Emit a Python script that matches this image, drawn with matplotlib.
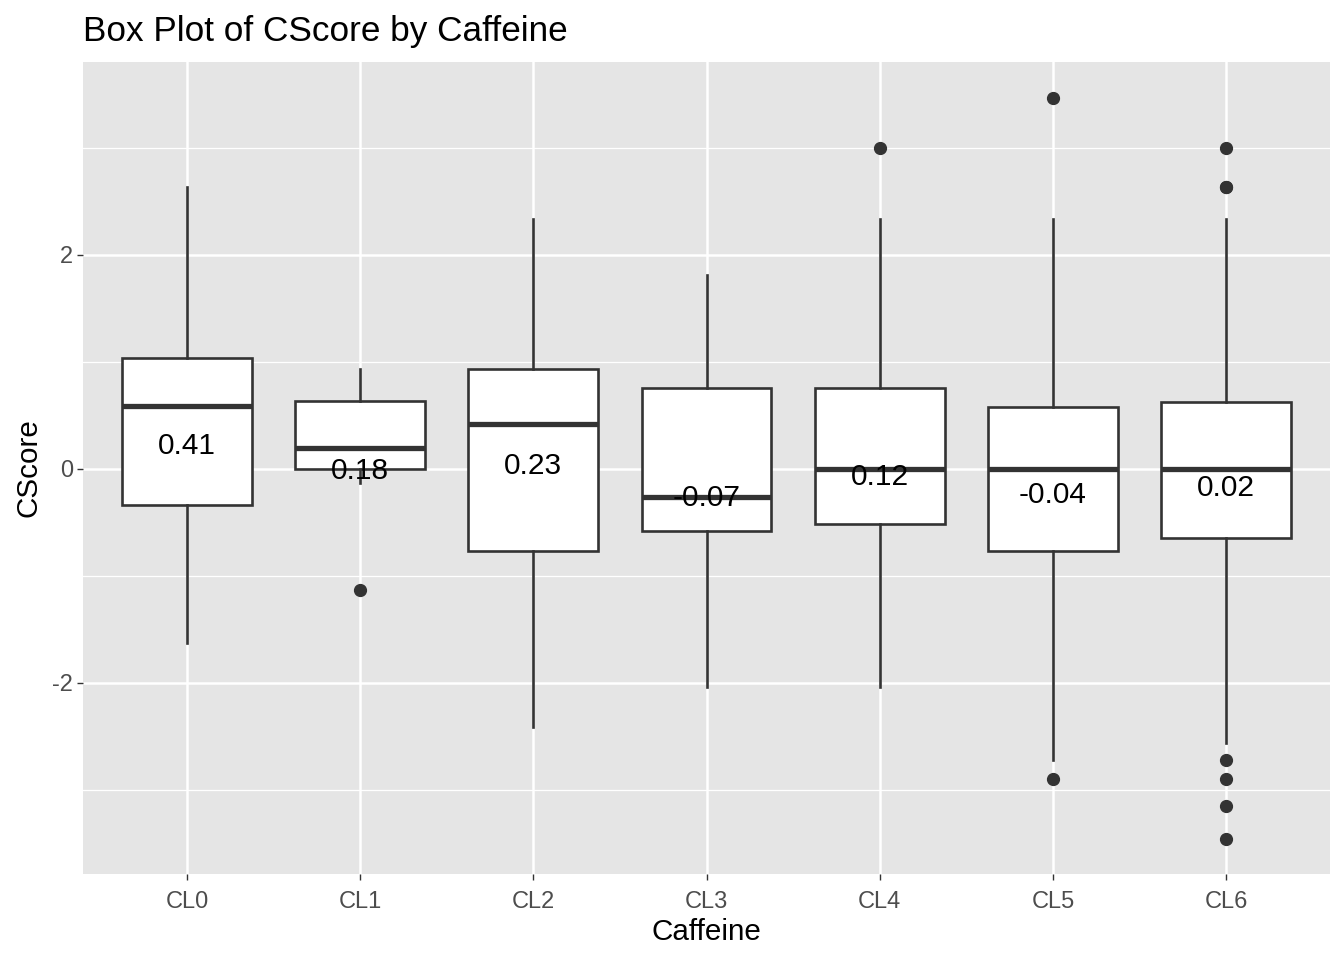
import matplotlib.pyplot as plt
from matplotlib.ticker import FixedLocator

plt.rcParams['font.family'] = ['Liberation Sans', 'DejaVu Sans']

# Box statistics
categories = ['CL0', 'CL1', 'CL2', 'CL3', 'CL4', 'CL5', 'CL6']
q1 = [-0.336, 0.0, -0.766, -0.579, -0.514, -0.766, -0.645]
medians = [0.589, 0.196, 0.420, -0.262, 0.0, 0.0, 0.0]
q3 = [1.037, 0.636, 0.935, 0.757, 0.757, 0.579, 0.626]
whisk_lo = [-1.626, -0.13, -2.411, -2.037, -2.037, -2.72, -2.56]
whisk_hi = [2.636, 0.935, 2.336, 1.813, 2.336, 2.336, 2.336]
outliers = [[], [-1.131], [], [], [3.0], [3.467, -2.897],
            [3.0, 2.636, 2.636, -2.72, -2.90, -3.15, -3.46]]
means = [0.41, 0.18, 0.23, -0.07, 0.12, -0.04, 0.02]

stats = []
for i, cat in enumerate(categories):
    stats.append({'label': cat, 'q1': q1[i], 'med': medians[i], 'q3': q3[i],
                  'whislo': whisk_lo[i], 'whishi': whisk_hi[i], 'fliers': outliers[i]})

fig = plt.figure(figsize=(13.44, 9.6), dpi=100)
ax = fig.add_axes([83 / 1344, 1 - 874 / 960, (1330 - 83) / 1344, (874 - 62) / 960])
ax.set_facecolor('#E5E5E5')

positions = list(range(1, len(categories) + 1))
ax.bxp(stats, positions=positions, widths=0.75, patch_artist=True, showcaps=False,
       boxprops=dict(facecolor='white', edgecolor='#333333', linewidth=1.9),
       whiskerprops=dict(color='#333333', linewidth=1.9),
       medianprops=dict(color='#333333', linewidth=3.8, solid_capstyle='butt'),
       flierprops=dict(marker='o', markerfacecolor='#333333', markeredgecolor='#333333',
                       markersize=8.5, linestyle='none'),
       zorder=3)

# mean labels sit just below the mean value
for i, m in enumerate(means):
    ax.annotate(f'{m:.2f}', xy=(positions[i], m), xytext=(0, -15.5), textcoords='offset points',
                ha='center', va='center', fontsize=21.5, color='black', zorder=5)

ax.set_xlim(0.4, 7.6)
ax.set_ylim(-3.785, 3.80)
ax.set_xticks(positions)
ax.set_xticklabels(categories)
ax.set_yticks([-2, 0, 2])
ax.set_yticklabels(['-2', '0', '2'])
ax.yaxis.set_minor_locator(FixedLocator([-3, -1, 1, 3]))

ax.grid(True, which='major', color='white', linewidth=1.8, zorder=0)
ax.grid(True, which='minor', axis='y', color='white', linewidth=0.9, zorder=0)
ax.set_axisbelow(True)
for s in ax.spines.values():
    s.set_visible(False)

ax.tick_params(axis='both', which='major', length=4, width=1.0, color='#333333',
               labelsize=17, labelcolor='#4D4D4D', pad=3)
ax.tick_params(axis='x', which='major', pad=8)
ax.tick_params(axis='y', which='minor', length=0)

ax.set_xlabel('Caffeine', fontsize=21.3, color='black', labelpad=4)
ax.set_ylabel('CScore', fontsize=21.3, color='black', labelpad=7)
ax.set_title('Box Plot of CScore by Caffeine', fontsize=25.3, color='black', loc='left',
             x=0.0, pad=15)

fig.savefig('out.png', dpi=100)
